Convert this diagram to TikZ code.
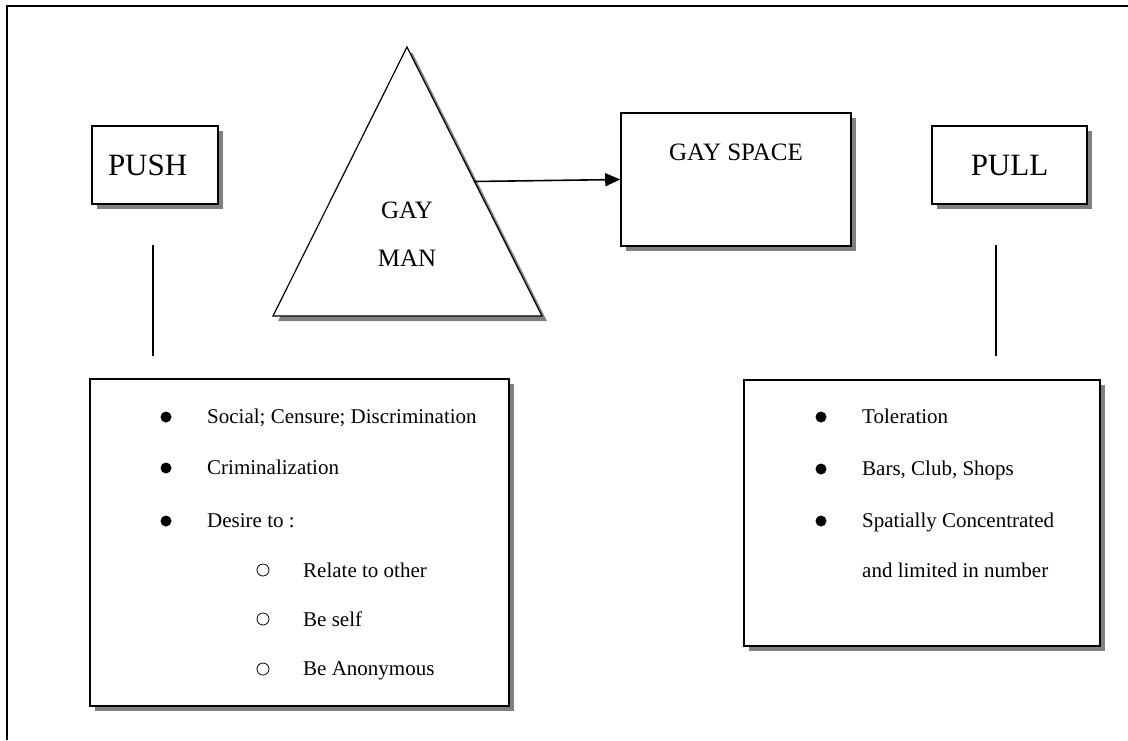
\documentclass[tikz,border=0pt]{standalone}
\usepackage{fontspec}
\setmainfont{Liberation Serif}
\usetikzlibrary{arrows.meta,shadows,calc}

\begin{document}
\begin{tikzpicture}[x=1pt,y=-1pt,
  box/.style={draw, line width=1.6pt, fill=white,
    drop shadow={shadow xshift=5pt, shadow yshift=-5pt, fill=gray, opacity=1}},
  item/.style={anchor=base west, font=\fontsize{21}{25}\selectfont, inner sep=0pt},
  dot/.style={circle, fill=black, inner sep=0pt, minimum size=11pt},
  ring/.style={circle, draw, line width=0.8pt, inner sep=0pt, minimum size=12pt}]
% Define colors
\definecolor{shadowgray}{RGB}{128,128,128}

% Canvas and frame
\useasboundingbox (0,0) rectangle (1128,740);
\draw[line width=2pt] (7,740) -- (7,6) -- (1128,6);

% Push and pull boxes
\node[box, text width=94pt, inner xsep=16pt, align=left, minimum height=78pt, font=\fontsize{31}{36}\selectfont] (push) at (155,165) {PUSH};
\node[box, minimum width=155pt, minimum height=78pt, font=\fontsize{31}{36}\selectfont] (pull) at (1009.5,165) {PULL};

% Short vertical lines under them
\coordinate (push top) at (153,245);
\coordinate (push bottom) at (153,356);
\coordinate (pull top) at (996,245);
\coordinate (pull bottom) at (996,356);
\draw[line width=1.6pt] (push top) -- (push bottom);
\draw[line width=1.6pt] (pull top) -- (pull bottom);

% Triangle with shadow
\coordinate (apex) at (407,47);
\coordinate (base left) at (273,316);
\coordinate (base right) at (542,316);
\fill[shadowgray] ([shift={(5pt,-5pt)}]apex) -- ([shift={(5pt,-5pt)}]base right) -- ([shift={(5pt,-5pt)}]base left) -- cycle;
\draw[line width=1.2pt, fill=white, line join=miter] (apex) -- (base right) -- (base left) -- cycle;
\node[align=center, font=\fontsize{25}{48}\selectfont] (man) at (407,234) {GAY\\MAN};

% Gay space box and arrow
\node[box, minimum width=230pt, minimum height=133pt,
  label={[font=\fontsize{25}{30}\selectfont, inner sep=0pt, yshift=-49pt]north:GAY SPACE}] (space) at (736,179.5) {};
\coordinate (man edge) at ($(apex)!0.5!(base right)$);
\draw[line width=1.6pt, -{Triangle[length=15pt,width=13pt]}] (man edge) -- (space.west);

% Push list
\node[box, minimum width=419pt, minimum height=327pt] (push list) at (299.5,542.5) {};
\node[dot] (pa) at (166,417) {};
\node[item] (pa text) at (207,423) {Social; Censure; Discrimination};
\node[dot] (pb) at (166,468) {};
\node[item] (pb text) at (207,474) {Criminalization};
\node[dot] (pc) at (166,521) {};
\node[item] (pc text) at (207,527) {Desire to :};
\node[ring] (pd) at (263,570) {};
\node[item] (pd text) at (303,577) {Relate to other};
\node[ring] (pe) at (263,619) {};
\node[item] (pe text) at (303,626) {Be self};
\node[ring] (pf) at (263,669) {};
\node[item] (pf text) at (303,675) {Be Anonymous};

% Pull list
\node[box, minimum width=356pt, minimum height=266pt] (pull list) at (922,513) {};
\node[dot] (qa) at (821,417) {};
\node[item] (qa text) at (862,423) {Toleration};
\node[dot] (qb) at (821,469) {};
\node[item] (qb text) at (862,475) {Bars, Club, Shops};
\node[dot] (qc) at (821,521) {};
\node[item] (qc text) at (862,527) {Spatially Concentrated};
\node[item] (qd text) at (862,577) {and limited in number};

\end{tikzpicture}
\end{document}
